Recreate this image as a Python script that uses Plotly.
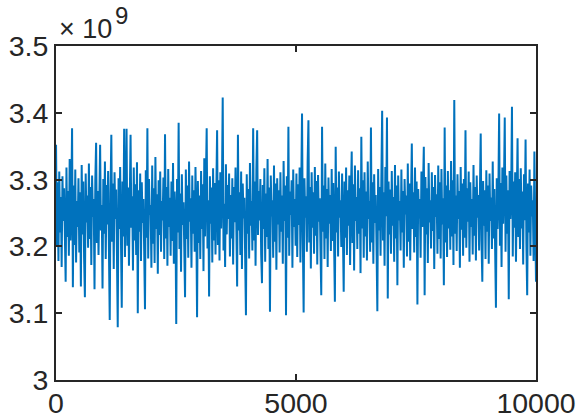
import numpy as np
import plotly.graph_objects as go

# signal values, in units of 1e9 (600 samples across 1..10000)
signal = [
    3.352, 3.201, 3.296, 3.178, 3.312, 3.221, 3.274, 3.169, 3.305, 3.238, 3.287, 3.195, 3.147, 3.318, 3.214, 3.283, 3.186, 3.331, 3.209, 3.264,
    3.377, 3.139, 3.291, 3.202, 3.315, 3.176, 3.268, 3.229, 3.302, 3.191, 3.281, 3.140, 3.322, 3.218, 3.297, 3.183, 3.124, 3.309, 3.236, 3.276,
    3.198, 3.324, 3.211, 3.289, 3.172, 3.306, 3.244, 3.271, 3.136, 3.298, 3.355, 3.205, 3.283, 3.187, 3.316, 3.352, 3.224, 3.262, 3.137, 3.301,
    3.219, 3.327, 3.181, 3.292, 3.233, 3.313, 3.196, 3.090, 3.279, 3.367, 3.207, 3.294, 3.166, 3.311, 3.241, 3.285, 3.189, 3.079, 3.302, 3.226,
    3.319, 3.193, 3.108, 3.297, 3.215, 3.376, 3.184, 3.269, 3.376, 3.201, 3.288, 3.171, 3.307, 3.367, 3.228, 3.275, 3.164, 3.318, 3.209, 3.293,
    3.187, 3.326, 3.100, 3.284, 3.222, 3.309, 3.178, 3.296, 3.235, 3.271, 3.193, 3.106, 3.314, 3.213, 3.377, 3.182, 3.301, 3.247, 3.262, 3.168,
    3.321, 3.204, 3.287, 3.175, 3.334, 3.226, 3.278, 3.159, 3.299, 3.217, 3.312, 3.192, 3.268, 3.239, 3.303, 3.181, 3.368, 3.212, 3.289, 3.171,
    3.316, 3.229, 3.273, 3.186, 3.297, 3.208, 3.325, 3.174, 3.282, 3.243, 3.084, 3.301, 3.221, 3.385, 3.196, 3.279, 3.162, 3.308, 3.232, 3.266,
    3.199, 3.124, 3.315, 3.211, 3.291, 3.183, 3.327, 3.237, 3.272, 3.168, 3.306, 3.219, 3.284, 3.192, 3.319, 3.246, 3.094, 3.298, 3.205, 3.276,
    3.181, 3.313, 3.226, 3.293, 3.163, 3.332, 3.215, 3.281, 3.377, 3.197, 3.269, 3.125, 3.305, 3.234, 3.288, 3.176, 3.317, 3.209, 3.295, 3.188,
    3.271, 3.374, 3.202, 3.299, 3.179, 3.311, 3.227, 3.286, 3.423, 3.194, 3.264, 3.169, 3.323, 3.218, 3.292, 3.241, 3.309, 3.185, 3.277, 3.212,
    3.302, 3.173, 3.289, 3.236, 3.318, 3.198, 3.140, 3.367, 3.224, 3.281, 3.187, 3.312, 3.166, 3.294, 3.242, 3.273, 3.203, 3.097, 3.308, 3.219,
    3.286, 3.182, 3.325, 3.231, 3.268, 3.194, 3.377, 3.209, 3.297, 3.171, 3.314, 3.374, 3.217, 3.283, 3.239, 3.301, 3.188, 3.145, 3.292, 3.226,
    3.317, 3.177, 3.279, 3.214, 3.331, 3.196, 3.288, 3.102, 3.306, 3.245, 3.269, 3.183, 3.321, 3.207, 3.294, 3.165, 3.302, 3.233, 3.284, 3.191,
    3.311, 3.222, 3.276, 3.174, 3.328, 3.238, 3.291, 3.097, 3.305, 3.213, 3.379, 3.186, 3.282, 3.247, 3.299, 3.168, 3.315, 3.229, 3.271, 3.201,
    3.309, 3.184, 3.293, 3.232, 3.318, 3.176, 3.285, 3.399, 3.211, 3.101, 3.302, 3.243, 3.275, 3.192, 3.326, 3.389, 3.206, 3.289, 3.167, 3.311,
    3.228, 3.281, 3.189, 3.319, 3.216, 3.298, 3.173, 3.307, 3.237, 3.272, 3.197, 3.127, 3.379, 3.222, 3.291, 3.181, 3.324, 3.212, 3.286, 3.169,
    3.303, 3.234, 3.277, 3.193, 3.316, 3.208, 3.295, 3.178, 3.117, 3.349, 3.221, 3.288, 3.185, 3.312, 3.243, 3.269, 3.199, 3.309, 3.226, 3.132,
    3.297, 3.213, 3.318, 3.187, 3.284, 3.231, 3.306, 3.172, 3.279, 3.342, 3.205, 3.293, 3.164, 3.321, 3.238, 3.274, 3.196, 3.314, 3.219, 3.287,
    3.160, 3.364, 3.227, 3.299, 3.183, 3.311, 3.215, 3.282, 3.179, 3.327, 3.241, 3.268, 3.192, 3.378, 3.206, 3.296, 3.174, 3.308, 3.235, 3.277,
    3.198, 3.103, 3.316, 3.224, 3.289, 3.186, 3.302, 3.403, 3.209, 3.281, 3.171, 3.319, 3.245, 3.393, 3.122, 3.297, 3.218, 3.285, 3.189, 3.313,
    3.231, 3.274, 3.177, 3.322, 3.212, 3.291, 3.142, 3.306, 3.239, 3.268, 3.194, 3.315, 3.221, 3.283, 3.168, 3.301, 3.248, 3.276, 3.185, 3.324,
    3.207, 3.294, 3.179, 3.309, 3.354, 3.226, 3.281, 3.191, 3.318, 3.214, 3.297, 3.113, 3.286, 3.242, 3.271, 3.183, 3.312, 3.229, 3.293, 3.349,
    3.127, 3.304, 3.218, 3.287, 3.175, 3.325, 3.236, 3.269, 3.197, 3.311, 3.223, 3.289, 3.166, 3.307, 3.244, 3.278, 3.189, 3.321, 3.211, 3.296,
    3.182, 3.316, 3.233, 3.272, 3.142, 3.378, 3.206, 3.291, 3.184, 3.313, 3.227, 3.284, 3.195, 3.328, 3.215, 3.299, 3.172, 3.419, 3.219, 3.276,
    3.193, 3.308, 3.241, 3.283, 3.168, 3.319, 3.225, 3.294, 3.186, 3.301, 3.213, 3.374, 3.198, 3.287, 3.237, 3.312, 3.177, 3.296, 3.229, 3.271,
    3.188, 3.322, 3.216, 3.289, 3.179, 3.306, 3.243, 3.277, 3.194, 3.317, 3.369, 3.208, 3.147, 3.298, 3.231, 3.284, 3.181, 3.314, 3.222, 3.291,
    3.174, 3.309, 3.238, 3.273, 3.196, 3.327, 3.212, 3.286, 3.183, 3.108, 3.302, 3.226, 3.279, 3.399, 3.201, 3.295, 3.169, 3.318, 3.234, 3.288,
    3.393, 3.192, 3.306, 3.219, 3.284, 3.121, 3.313, 3.241, 3.276, 3.409, 3.185, 3.297, 3.228, 3.311, 3.177, 3.289, 3.362, 3.214, 3.301, 3.196,
    3.317, 3.227, 3.282, 3.173, 3.308, 3.239, 3.360, 3.204, 3.127, 3.294, 3.221, 3.315, 3.186, 3.291, 3.245, 3.269, 3.178, 3.342, 3.215, 3.147,
]

y_ticks = [3.0, 3.1, 3.2, 3.3, 3.4, 3.5]
y_tick_labels = ['3', '3.1', '3.2', '3.3', '3.4', '3.5']
x_ticks = [0, 5000, 10000]
x_tick_labels = ['0', '5000', '10000']

# sample index axis
sample = np.linspace(1, 10000, len(signal))

AXIS_COLOR = '#262626'
FONT = 'Liberation Sans, Arial, Helvetica, sans-serif'

fig = go.Figure(
    go.Scatter(
        x=sample,
        y=signal,
        mode='lines',
        line=dict(color='#0072BD', width=2),
        hoverinfo='skip'
    )
)

axis_style = dict(
    showgrid=False,
    zeroline=False,
    showline=True,
    mirror='ticks',
    linecolor=AXIS_COLOR,
    linewidth=2,
    ticks='inside',
    ticklen=6,
    tickwidth=1.5,
    tickcolor=AXIS_COLOR,
    automargin=False,
    tickfont=dict(family=FONT, size=28.5, color=AXIS_COLOR),
)

fig.update_xaxes(range=[0, 10000], tickvals=x_ticks, ticktext=x_tick_labels,
                 ticklabelstandoff=-3, **axis_style)
fig.update_yaxes(range=[3.0, 3.5], tickvals=y_ticks, ticktext=y_tick_labels, **axis_style)

# exponent label, MATLAB style: "x 10" with a raised, nearly full-size 9
fig.add_annotation(
    text='\u00d7 10',
    xref='paper', yref='paper',
    x=0, y=1,
    xanchor='left', yanchor='bottom',
    xshift=1, yshift=0,
    showarrow=False,
    font=dict(family=FONT, size=27, color=AXIS_COLOR)
)
fig.add_annotation(
    text='9',
    xref='paper', yref='paper',
    x=0, y=1,
    xanchor='left', yanchor='bottom',
    xshift=58, yshift=16,
    borderpad=0,
    showarrow=False,
    font=dict(family=FONT, size=24, color=AXIS_COLOR)
)

fig.update_layout(
    width=578,
    height=420,
    showlegend=False,
    paper_bgcolor='white',
    plot_bgcolor='white',
    margin=dict(l=56, r=42, t=46, b=40)
)

# drop the default 8px body margin so the figure sits at the window corner
fig.write_html(
    "out.html",
    config={'displayModeBar': False},
    post_script="document.body.style.margin = '0px';"
)
